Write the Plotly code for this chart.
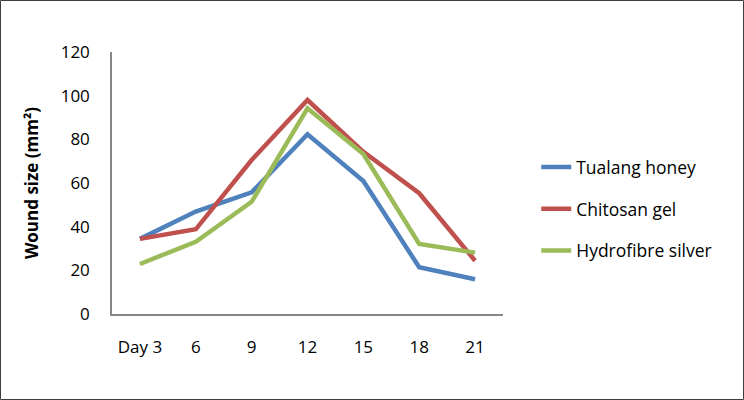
import plotly.graph_objects as go

days = ["Day 3", "6", "9", "12", "15", "18", "21"]
tualang_honey = [34.4, 46.9, 55.7, 82.3, 60.9, 21.4, 15.9]
chitosan_gel = [34.4, 38.8, 70.5, 98.0, 74.3, 55.3, 24.4]
hydrofibre_silver = [22.9, 33.1, 51.4, 94.2, 73.3, 32.1, 28.1]

series = [
    ("Tualang honey", tualang_honey, "#4F81BD"),
    ("Chitosan gel", chitosan_gel, "#C0504D"),
    ("Hydrofibre silver", hydrofibre_silver, "#9BBB59"),
]

W, H = 744, 400
L, R, T, B = 112, 241, 52, 86
font = "Open Sans, Liberation Sans, Arial, sans-serif"

fig = go.Figure()
for i, (name, vals, col) in enumerate(series):
    fig.add_trace(go.Scatter(
        x=days, y=vals, name=name, mode="lines",
        line=dict(color=col, width=4.5),
        legendgroup=f"g{i}",
    ))

axis_col = "#868686"
fig.update_layout(
    width=W, height=H,
    margin=dict(l=L, r=R, t=T, b=B, autoexpand=False),
    paper_bgcolor="white", plot_bgcolor="white",
    font=dict(family=font, size=17, color="#000"),
    xaxis=dict(showgrid=False, zeroline=False, showline=True, automargin=False,
               linecolor=axis_col, linewidth=1.5, ticks="",
               tickfont=dict(size=17), range=[-0.5, 6.5],
               ticklabelstandoff=17),
    yaxis=dict(showgrid=False, zeroline=False, showline=True, automargin=False,
               linecolor=axis_col, linewidth=1.5, ticks="",
               range=[0, 120], dtick=20, tickfont=dict(size=17),
               ticklabelstandoff=17,
               title=dict(text="<b>Wound size (mm²)</b>", font=dict(size=17),
                          standoff=18)),
    legend=dict(x=1.085, y=0.40, xanchor="left", yanchor="middle",
                font=dict(size=17.5), tracegroupgap=16,
                bgcolor="rgba(0,0,0,0)"),
    showlegend=True,
)

# Outer border round the whole chart
pw, ph = W - L - R, H - T - B
fig.add_shape(type="rect", xref="paper", yref="paper",
              x0=(0.5 - L) / pw, x1=(W - 0.5 - L) / pw,
              y0=(H - B - (H - 0.5)) / ph, y1=(H - B - 0.5) / ph,
              line=dict(color="#404040", width=1), layer="below")

fig.write_html("out.html", config={"displayModeBar": False},
               post_script="document.body.style.margin='0';")
